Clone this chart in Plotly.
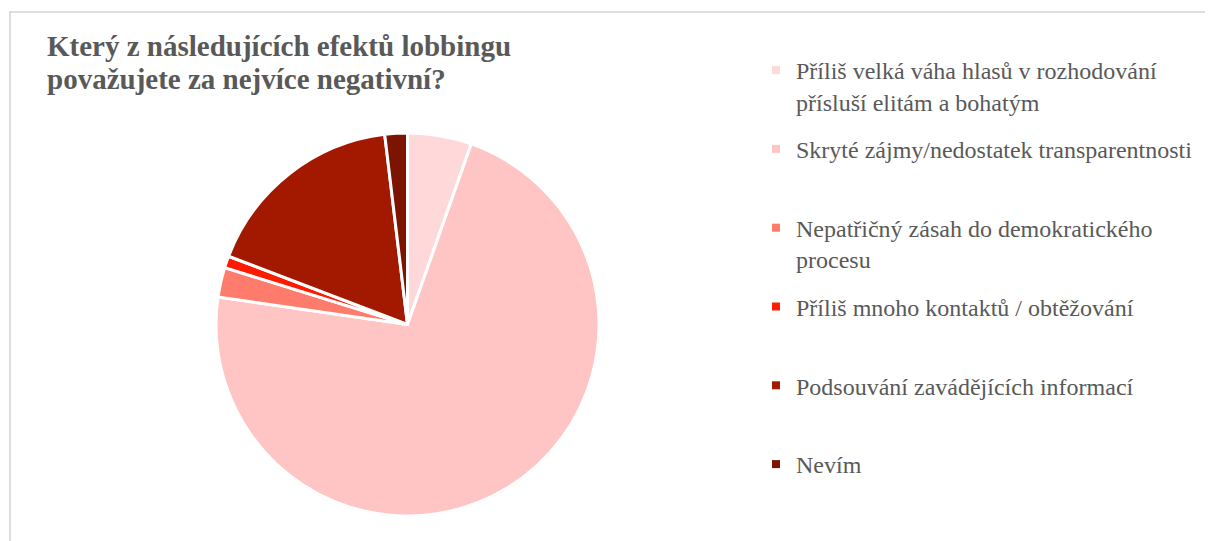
import plotly.graph_objects as go

W, H = 1213, 541
OFF = 8  # page body margin offset in the browser

categories = [
    "Příliš velká váha hlasů v rozhodování přísluší elitám a bohatým",
    "Skryté zájmy/nedostatek transparentnosti",
    "Nepatřičný zásah do demokratického procesu",
    "Příliš mnoho kontaktů / obtěžování",
    "Podsouvání zavádějících informací",
    "Nevím",
]
legend_labels = [
    "Příliš velká váha hlasů v rozhodování<br>přísluší elitám a bohatým",
    "Skryté zájmy/nedostatek transparentnosti",
    "Nepatřičný zásah do demokratického<br>procesu",
    "Příliš mnoho kontaktů / obtěžování",
    "Podsouvání zavádějících informací",
    "Nevím",
]
values = [5.4, 71.9, 2.5, 1.0, 17.3, 1.9]
colors = ["#FFD9D9", "#FFC4C4", "#FF7B6B", "#FF1A00", "#A31900", "#7B1400"]

title_lines = ["Který z následujících efektů lobbingu", "považujete za nejvíce negativní?"]


def px(x):
    return (x - OFF) / W


def py(y):
    return 1 - (y - OFF) / H


fig = go.Figure()

fig.add_trace(go.Pie(
    labels=categories,
    values=values,
    marker=dict(colors=colors, line=dict(color="white", width=3)),
    sort=False,
    direction="clockwise",
    rotation=0,
    textinfo="none",
    hoverinfo="label+percent",
    showlegend=False,
    domain=dict(x=[px(216), px(599)], y=[py(516), py(133)]),
))

for i, (lab, col) in enumerate(zip(legend_labels, colors)):
    name = lab if "<br>" in lab else lab + "<br>&nbsp;"
    fig.add_trace(go.Scatter(
        x=[None], y=[None], mode="markers",
        marker=dict(symbol="square", size=8, color=col),
        name=name, legendgroup=str(i), hoverinfo="skip",
    ))

for line, yc in zip(title_lines, [46, 79]):
    fig.add_annotation(
        text=line, xref="paper", yref="paper",
        x=px(45), y=py(yc), xanchor="left", yanchor="middle",
        align="left", showarrow=False,
        font=dict(family="Liberation Serif", size=29, color="#595959", weight="bold"),
    )

fig.update_layout(
    width=W, height=H,
    margin=dict(l=0, r=0, t=0, b=0),
    paper_bgcolor="white", plot_bgcolor="white",
    xaxis=dict(visible=False), yaxis=dict(visible=False),
    showlegend=True,
    legend=dict(
        x=px(756), y=py(48), xanchor="left", yanchor="top",
        font=dict(family="Liberation Serif", size=24, color="#595959"),
        tracegroupgap=13.4, valign="top", bgcolor="rgba(0,0,0,0)",
        itemclick=False, itemdoubleclick=False,
    ),
    shapes=[
        dict(type="line", xref="paper", yref="paper", x0=px(9), x1=1, y0=py(12), y1=py(12),
             line=dict(color="#BFBFBF", width=1)),
        dict(type="line", xref="paper", yref="paper", x0=px(10), x1=px(10), y0=0, y1=py(12),
             line=dict(color="#BFBFBF", width=1)),
    ],
)

fig.write_html("out.html")
